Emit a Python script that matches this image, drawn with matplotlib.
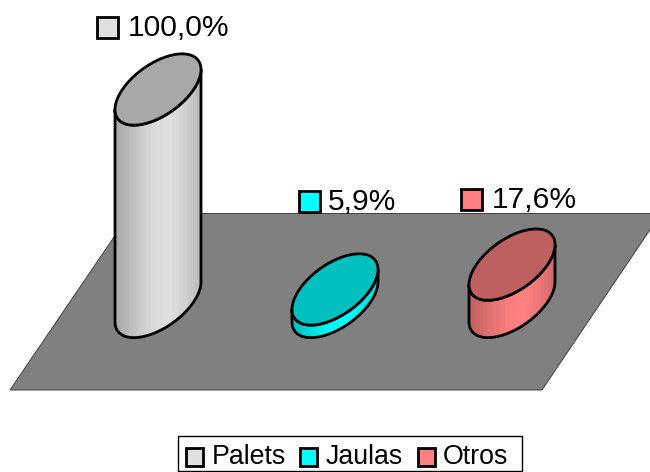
import numpy as np
import matplotlib
matplotlib.use('Agg')
import matplotlib.pyplot as plt
from matplotlib.colors import to_rgb
from matplotlib.patches import Polygon, Rectangle

plt.rcParams['font.family'] = ['Liberation Sans', 'DejaVu Sans']

# data
categories = ['Palets', 'Jaulas', 'Otros']
values = [100.0, 5.9, 17.6]
colors = ['#E0E0E0', '#00FFFF', '#FF8080']

# layout, in pixels of the 650x472 picture
bar_x = [158, 335, 512]
base_y = 302
px_per_unit = 2.125
half_w = 43
skew = 20
half_h = 29.5
label_key_xy = [(97, 17), (299, 191), (461, 189)]
label_text_xy = [(128, 36), (328, 210), (492, 208)]
legend_key_x = [186, 300, 418]
legend_text_x = [212, 326, 443]
floor = [(10, 390), (542, 390), (661, 213.5), (130, 213.5)]
label_pt = 30.0 * 72 / 100
legend_pt = 26.8 * 72 / 100
line = 2.0

# left to right shading of the cylinder side
side_shade = [0.76, 0.78, 0.80, 0.82, 0.85, 0.87, 0.89, 0.91, 0.93, 0.95, 0.97, 0.98,
              0.99, 1.0, 1.0, 1.0, 0.99, 0.97, 0.95, 0.93, 0.91, 0.89, 0.86, 0.83]


def ellipse_pts(cx, cy, t):
    return np.column_stack([cx + half_w * np.cos(t),
                            cy - skew * np.cos(t) - half_h * np.sin(t)])


def draw_cylinder(ax, cx, value, color):
    height = value * px_per_unit
    top_y = base_y - height
    rgb = np.array(to_rgb(color))

    # side: right tangent -> down -> lower half of base -> left tangent -> up
    lower = ellipse_pts(cx, base_y, np.linspace(0, -np.pi, 80))
    upper = ellipse_pts(cx, top_y, np.linspace(-np.pi, 0, 80))
    side = np.vstack([lower, upper, lower[:1]])
    side_patch = Polygon(side, closed=True, facecolor='none', edgecolor='none')
    ax.add_patch(side_patch)
    strip = np.array([[rgb * s for s in side_shade]])
    im = ax.imshow(strip, extent=(cx - half_w, cx + half_w, base_y + 60, top_y - 60),
                   aspect='auto', interpolation='nearest', zorder=3)
    im.set_clip_path(side_patch)
    outline = Polygon(side, closed=True, facecolor='none', edgecolor='black',
                      linewidth=line, joinstyle='round', zorder=4)
    ax.add_patch(outline)

    # top face
    t = np.linspace(0, 2 * np.pi, 160)
    ax.add_patch(Polygon(ellipse_pts(cx, top_y, t), closed=True, facecolor=rgb * 0.75,
                         edgecolor='black', linewidth=line, zorder=5))


fig = plt.figure(figsize=(6.5, 4.72), dpi=100)
ax = fig.add_axes([0, 0, 1, 1])

ax.add_patch(Polygon(floor, closed=True, facecolor='#808080', edgecolor='#404040',
                     linewidth=0.7, zorder=1))

for cx, val, col in zip(bar_x, values, colors):
    draw_cylinder(ax, cx, val, col)

# data labels
for val, col, (kx, ky), (tx, ty) in zip(values, colors, label_key_xy, label_text_xy):
    ax.add_patch(Rectangle((kx, ky), 21, 21, facecolor=col, edgecolor='black',
                           linewidth=line, zorder=6))
    ax.text(tx, ty, f'{val:.1f}%'.replace('.', ','), fontsize=label_pt, color='black',
            ha='left', va='baseline', zorder=6)

# legend
ax.add_patch(Rectangle((177.5, 435.5), 344, 35.5, facecolor='white', edgecolor='black',
                       linewidth=1.0, zorder=6))
for name, col, kx, tx in zip(categories, colors, legend_key_x, legend_text_x):
    ax.add_patch(Rectangle((kx, 448), 17, 18, facecolor=col, edgecolor='black',
                           linewidth=line, zorder=7))
    ax.text(tx, 464, name, fontsize=legend_pt, color='black', ha='left', va='baseline', zorder=7)

ax.set_xlim(0, 650)
ax.set_ylim(472, 0)
ax.axis('off')

fig.savefig('out.png', dpi=100)
